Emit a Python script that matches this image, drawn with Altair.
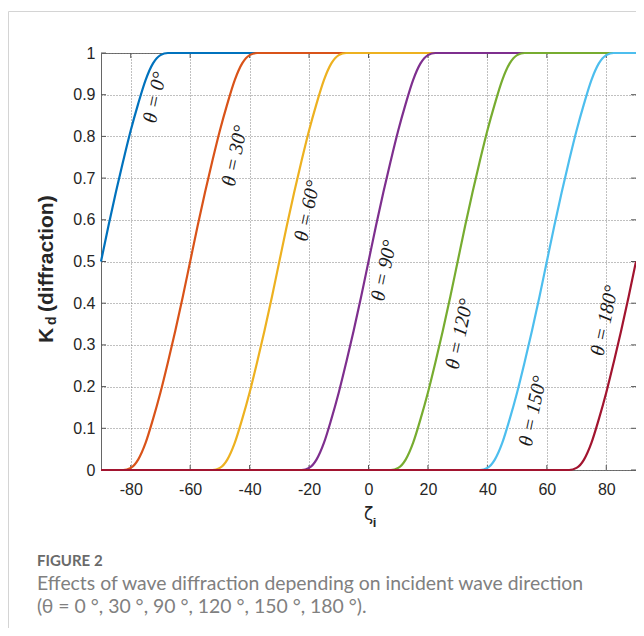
import altair as alt
import pandas as pd

# ---- data ----
x_ticks = [-80, -60, -40, -20, 0, 20, 40, 60, 80]
y_ticks = [0, 0.1, 0.2, 0.3, 0.4, 0.5, 0.6, 0.7, 0.8, 0.9, 1]

x_t0 = [-90, -87.5, -85, -82.5, -80, -77.5, -75, -72.5, -70, -67.5, 90]
y_t0 = [0.5, 0.585, 0.666, 0.742, 0.814, 0.878, 0.935, 0.975, 0.995, 1, 1]

x_t30 = [-90, -82.5, -80, -77.5, -75, -72.5, -70, -67.5, -65, -62.5, -60,
         -57.5, -55, -52.5, -50, -47.5, -45, -42.5, -40, -37.5, 90]
y_t30 = [0, 0, 0.005, 0.025, 0.065, 0.122, 0.186, 0.258, 0.334, 0.415, 0.5,
         0.585, 0.666, 0.742, 0.814, 0.878, 0.935, 0.975, 0.995, 1, 1]

x_t60 = [-90, -52.5, -50, -47.5, -45, -42.5, -40, -37.5, -35, -32.5, -30,
         -27.5, -25, -22.5, -20, -17.5, -15, -12.5, -10, -7.5, 90]
y_t60 = [0, 0, 0.005, 0.025, 0.065, 0.122, 0.186, 0.258, 0.334, 0.415, 0.5,
         0.585, 0.666, 0.742, 0.814, 0.878, 0.935, 0.975, 0.995, 1, 1]

x_t90 = [-90, -22.5, -20, -17.5, -15, -12.5, -10, -7.5, -5, -2.5, 0,
         2.5, 5, 7.5, 10, 12.5, 15, 17.5, 20, 22.5, 90]
y_t90 = [0, 0, 0.005, 0.025, 0.065, 0.122, 0.186, 0.258, 0.334, 0.415, 0.5,
         0.585, 0.666, 0.742, 0.814, 0.878, 0.935, 0.975, 0.995, 1, 1]

x_t120 = [-90, 7.5, 10, 12.5, 15, 17.5, 20, 22.5, 25, 27.5, 30,
          32.5, 35, 37.5, 40, 42.5, 45, 47.5, 50, 52.5, 90]
y_t120 = [0, 0, 0.005, 0.025, 0.065, 0.122, 0.186, 0.258, 0.334, 0.415, 0.5,
          0.585, 0.666, 0.742, 0.814, 0.878, 0.935, 0.975, 0.995, 1, 1]

x_t150 = [-90, 37.5, 40, 42.5, 45, 47.5, 50, 52.5, 55, 57.5, 60,
          62.5, 65, 67.5, 70, 72.5, 75, 77.5, 80, 82.5, 90]
y_t150 = [0, 0, 0.005, 0.025, 0.065, 0.122, 0.186, 0.258, 0.334, 0.415, 0.5,
          0.585, 0.666, 0.742, 0.814, 0.878, 0.935, 0.975, 0.995, 1, 1]

x_t180 = [-90, 67.5, 70, 72.5, 75, 77.5, 80, 82.5, 85, 87.5, 90]
y_t180 = [0, 0, 0.005, 0.025, 0.065, 0.122, 0.186, 0.258, 0.334, 0.415, 0.5]

series_names = ["θ = 0°", "θ = 30°", "θ = 60°", "θ = 90°", "θ = 120°", "θ = 150°", "θ = 180°"]
series_x = [x_t0, x_t30, x_t60, x_t90, x_t120, x_t150, x_t180]
series_y = [y_t0, y_t30, y_t60, y_t90, y_t120, y_t150, y_t180]
series_colors = ["#0072BD", "#D95319", "#EDB120", "#7E2F8E", "#77AC30", "#4DBEEE", "#A2142F"]

label_x = [-71.8, -44.9, -20.5, 5.3, 30.7, 55.4, 79.5]
label_y = [0.893, 0.753, 0.621, 0.478, 0.326, 0.141, 0.358]

caption_head = "FIGURE 2"
caption_line1 = "Effects of wave diffraction depending on incident wave direction"
caption_line2 = "(θ = 0 °, 30 °, 90 °, 120 °, 150 °, 180 °)."

# ---- chart ----
W, H = 535, 417
xs = alt.Scale(domain=[-90, 90], nice=False, zero=False)
ys = alt.Scale(domain=[0, 1], nice=False, zero=False)
TICK = "#555555"
GRID = "#808080"

xtick_df = pd.DataFrame({"v": x_ticks})
ytick_df = pd.DataFrame({"v": y_ticks})

x_axis = alt.Axis(values=x_ticks, grid=True, gridDash=[1, 2], gridColor=GRID, gridOpacity=1,
                  ticks=False, tickSize=0, domain=False, labelExpr="toString(datum.value)",
                  labelFont="Liberation Sans", labelFontSize=16, labelColor="#262626",
                  labelPadding=11, title=None)
y_axis = alt.Axis(values=y_ticks, grid=True, gridDash=[1, 2], gridColor=GRID, gridOpacity=1,
                  ticks=False, tickSize=0, domain=False, labelExpr="toString(datum.value)",
                  labelFont="Liberation Sans", labelFontSize=16, labelColor="#262626",
                  labelPadding=6, title=None)


def X(f):
    return alt.X(f, type="quantitative", scale=xs, axis=x_axis)


def Y(f):
    return alt.Y(f, type="quantitative", scale=ys, axis=y_axis)


layers = []
# tick marks pointing inward (bottom / top)
layers.append(alt.Chart(xtick_df).mark_rule(color=TICK, strokeWidth=1).encode(
    x=X("v"), y=alt.value(H), y2=alt.value(H - 5)))
layers.append(alt.Chart(xtick_df).mark_rule(color=TICK, strokeWidth=1).encode(
    x=X("v"), y=alt.value(0), y2=alt.value(5)))
# tick marks pointing inward (left / right)
layers.append(alt.Chart(ytick_df).mark_rule(color=TICK, strokeWidth=1).encode(
    y=Y("v"), x=alt.value(0), x2=alt.value(5)))
layers.append(alt.Chart(ytick_df).mark_rule(color=TICK, strokeWidth=1).encode(
    y=Y("v"), x=alt.value(W - 5), x2=alt.value(W)))

for name, xv, yv, col in zip(series_names, series_x, series_y, series_colors):
    df = pd.DataFrame({"x": xv, "y": yv, "s": name})
    layers.append(alt.Chart(df).mark_line(color=col, strokeWidth=2.2, interpolate="monotone").encode(
        x=X("x"), y=Y("y")))

lab_df = pd.DataFrame({"x": label_x, "y": label_y, "t": series_names})
layers.append(alt.Chart(lab_df).mark_text(angle=282, font="Liberation Serif", fontStyle="italic",
                                          fontSize=20, color="#1a1a1a", align="center",
                                          baseline="middle").encode(
    x=X("x"), y=Y("y"), text="t:N"))

one = pd.DataFrame({"a": [0]})


def txt(text, x, y, **kw):
    return alt.Chart(one).mark_text(text=text, **kw).encode(x=alt.value(x), y=alt.value(y))


# y axis title  K_d (diffraction)
layers.append(txt("K", -47.7, 290, angle=270, align="left", baseline="alphabetic",
                  font="Liberation Sans", fontWeight="bold", fontSize=21, color="#262626"))
layers.append(txt("d", -45.5, 272, angle=270, align="left", baseline="alphabetic",
                  font="Liberation Sans", fontWeight="bold", fontSize=14, color="#262626"))
layers.append(txt("(diffraction)", -47.7, 259, angle=270, align="left", baseline="alphabetic",
                  font="Liberation Sans", fontWeight="bold", fontSize=21, color="#262626"))
# x axis title  ζ_i
layers.append(txt("ζ", 267.5, 462, align="center", baseline="middle",
                  font="DejaVu Sans", fontSize=17, color="#262626"))
layers.append(txt("i", 273.5, 470, align="center", baseline="middle",
                  font="Liberation Sans", fontWeight="bold", fontSize=13, color="#262626"))

# caption
layers.append(txt(caption_head, -64, 508, align="left", baseline="middle",
                  font="Lato", fontWeight="bold", fontSize=15, color="#6a6a6a"))
layers.append(txt(caption_line1, -64, 530.5, align="left", baseline="middle",
                  font="Lato", fontSize=19.4, color="#808080"))
layers.append(txt(caption_line2, -64, 554, align="left", baseline="middle",
                  font="Lato", fontSize=19.4, color="#808080"))

# card border (top and left)
layers.append(alt.Chart(one).mark_rule(color="#d4d4d4", strokeWidth=1).encode(
    x=alt.value(-92.5), x2=alt.value(W), y=alt.value(-41.5)))
layers.append(alt.Chart(one).mark_rule(color="#d4d4d4", strokeWidth=1).encode(
    x=alt.value(-92.5), y=alt.value(-41.5), y2=alt.value(H + 158)))

chart = alt.layer(*layers).properties(
    width=W, height=H,
    autosize=alt.AutoSizeParams(type="none"),
    padding={"left": 93, "top": 45, "right": 0, "bottom": 158},
    background="white",
).configure_view(stroke="#666666", strokeWidth=1)

chart.save("out.html", embed_options={"renderer": "svg", "actions": False})
